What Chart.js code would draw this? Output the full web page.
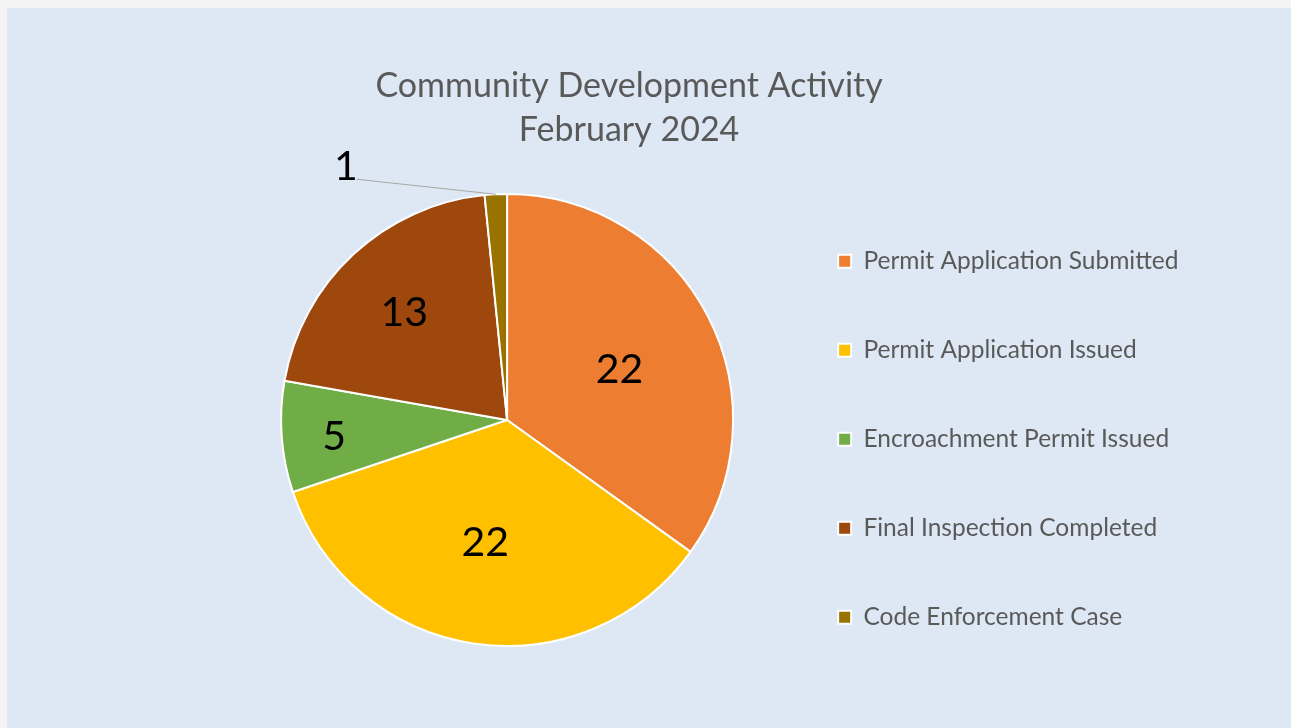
<!DOCTYPE html>
<html lang="en">
<head>
    <meta charset="UTF-8">
    <title>Community Development Activity</title>
    <style>
        body {
            margin: 0;
            background-color: #f4f4f4;
        }
        .chart-container {
            position: absolute;
            left: 7px;
            top: 8px;
            width: 1284px;
            height: 720px;
            background-color: #dde8f4;
        }
    </style>
</head>
<body>

<div class="chart-container">
    <canvas id="activityChart" width="1284" height="720"></canvas>
</div>

<script src="https://cdn.jsdelivr.net/npm/chart.js"></script>
<script>
    const titleLines = ['Community Development Activity', 'February 2024'];
    const categories = [
        'Permit Application Submitted',
        'Permit Application Issued',
        'Encroachment Permit Issued',
        'Final Inspection Completed',
        'Code Enforcement Case'
    ];
    const counts = [22, 22, 5, 13, 1];
    const sliceColors = ['#ed7d31', '#ffc000', '#70ad47', '#9e480e', '#997300'];

    // value labels inside the slices, the small one outside with a leader line
    const valueLabels = {
        id: 'valueLabels',
        afterDatasetsDraw(chart, args, opts) {
            const ctx = chart.ctx;
            const meta = chart.getDatasetMeta(0);
            ctx.save();
            ctx.font = opts.font;
            ctx.fillStyle = opts.color;
            ctx.textAlign = 'center';
            ctx.textBaseline = 'middle';
            meta.data.forEach((arc, i) => {
                const p = arc.getProps(['x', 'y', 'startAngle', 'endAngle', 'outerRadius'], true);
                const place = opts.placement[i];
                const mid = (p.startAngle + p.endAngle) / 2 + (place.a || 0) * Math.PI / 180;
                const text = String(chart.data.datasets[0].data[i]);
                if (place.outside) {
                    const ex = p.x + Math.cos(mid) * p.outerRadius;
                    const ey = p.y + Math.sin(mid) * p.outerRadius;
                    const lx = ex + place.dx;
                    const ly = ey + place.dy;
                    ctx.strokeStyle = opts.lineColor;
                    ctx.lineWidth = 1;
                    ctx.beginPath();
                    ctx.moveTo(lx + 11, ly + 12);
                    ctx.lineTo(ex, ey);
                    ctx.stroke();
                    ctx.fillText(text, lx, ly);
                } else {
                    const r = p.outerRadius * place.r;
                    ctx.fillText(text, p.x + Math.cos(mid) * r, p.y + Math.sin(mid) * r);
                }
            });
            ctx.restore();
        }
    };

    // nudges the title and the legend column after the layout has been done
    const boxShift = {
        id: 'boxShift',
        afterLayout(chart, args, opts) {
            chart.titleBlock.left += opts.titleX;
            chart.titleBlock.right += opts.titleX;
            chart.legend.top += opts.legendY;
            chart.legend.bottom += opts.legendY;
        }
    };

    const ctx = document.getElementById('activityChart').getContext('2d');
    const chart = new Chart(ctx, {
        type: 'pie',
        data: {
            labels: categories,
            datasets: [{
                data: counts,
                backgroundColor: sliceColors,
                borderColor: '#ffffff',
                borderWidth: 2
            }]
        },
        plugins: [valueLabels, boxShift],
        options: {
            responsive: false,
            animation: false,
            layout: {
                padding: { left: 233.5, right: 102.5, top: 0, bottom: 81 }
            },
            plugins: {
                title: {
                    display: true,
                    text: titleLines,
                    color: '#595959',
                    font: { family: 'Lato', size: 34, weight: 'normal', lineHeight: '44px' },
                    padding: { top: 56, bottom: 41 }
                },
                legend: {
                    position: 'right',
                    align: 'start',
                    labels: {
                        color: '#595959',
                        font: { family: 'Lato', size: 24.5 },
                        boxWidth: 13,
                        boxHeight: 13,
                        padding: 64.5
                    }
                },
                tooltip: { enabled: false },
                valueLabels: {
                    font: '41px Lato',
                    color: '#000000',
                    lineColor: '#a6a6a6',
                    placement: [
                        { r: 0.545, a: 3.1 },
                        { r: 0.553, a: 1.5 },
                        { r: 0.769, a: -1.1 },
                        { r: 0.656, a: -1.1 },
                        { outside: true, dx: -150, dy: -27 }
                    ]
                },
                boxShift: { titleX: -85.4, legendY: 176.5 }
            }
        }
    });
</script>

</body>
</html>
